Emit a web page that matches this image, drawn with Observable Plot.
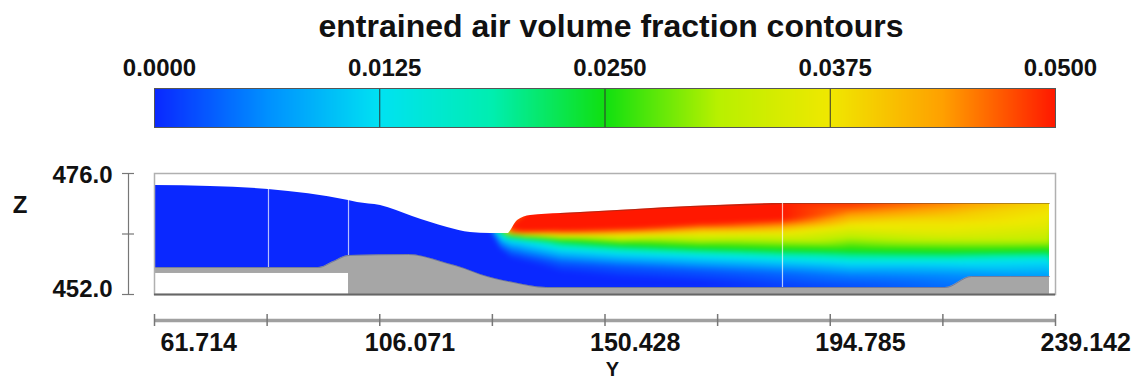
<!DOCTYPE html>
<html><head><meta charset="utf-8">
<script src="https://cdn.jsdelivr.net/npm/d3@7"></script>
<script src="https://cdn.jsdelivr.net/npm/@observablehq/plot@0.6"></script>
<style>
body{margin:0;background:#fff;}
#root{position:relative;width:1140px;height:380px;overflow:hidden;font-family:"Liberation Sans",Arial,sans-serif;}
#title{position:absolute;left:611px;top:10px;transform:translateX(-50%);font-size:32px;font-weight:bold;line-height:1;white-space:nowrap;color:#111;}
#bar{position:absolute;left:0;top:0;}
#main{position:absolute;left:0;top:140px;}
</style></head><body>
<div id="root"><div id="bar"></div><div id="main"></div><div id="title">entrained air volume fraction contours</div></div>
<script>
// ---- data ----
const colorTicks = [0, 0.0125, 0.025, 0.0375, 0.05];
const colorStops = [0, 0.00625, 0.0125, 0.01875, 0.025, 0.03125, 0.0375, 0.04375, 0.05];
const colorRange = ["#0a28ff", "#0090ff", "#00e2f2", "#00eeb0", "#10e010", "#b8f000", "#f0e800", "#ffa000", "#ff1800"];

const yTicks = [61.714, 83.893, 106.071, 128.250, 150.428, 172.607, 194.785, 216.964, 239.142];
const yTickLabels = [61.714, 106.071, 150.428, 194.785, 239.142];
const zTicks = [452, 464, 476];

// water surface (Y, Z)
const surfaceY = [61.714, 72.74, 84.16, 99.92, 101.69, 106.22, 112.52, 119.41, 123.94, 127.88, 131.23, 133.20, 135.76, 141.67, 145.60, 167.27, 185.38, 237.96];
const surfaceZ = [473.62, 473.42, 472.83, 470.64, 470.25, 469.65, 467.47, 465.29, 464.30, 464.10, 464.10, 466.68, 467.67, 468.07, 468.26, 469.45, 470.05, 470.05];

// channel bed (Y, Z)
const bedY = [61.714, 94.01, 96.96, 99.92, 111.73, 119.41, 122.76, 125.91, 132.41, 138.91, 217.48, 222.60, 237.96];
const bedZ = [457.36, 457.36, 458.55, 459.74, 459.93, 458.15, 457.16, 455.97, 454.38, 453.39, 453.39, 455.57, 455.57];

// empty box under the inlet section
const voidY = [61.714, 99.92];
const voidZ = [452, 456.17];

// block boundaries
const blockY = [84.16, 99.92, 185.38];
const blockTopZ = [472.83, 470.64, 470.05];
const blockBotZ = [457.36, 459.74, 453.39];

// air volume fraction samples [Y, Z, fraction]
const airSamples = [
  [61.714, 476, 0], [61.714, 452, 0], [61.714, 473.62, 0], [61.714, 457.36, 0],
  [99.92, 476, 0], [99.92, 470.64, 0], [99.92, 459.74, 0], [120, 476, 0], [120, 465.2, 0], [120, 458.0, 0],
  [127.0, 476, 0], [127.88, 464.10, 0], [127.88, 455.17, 0],
  [129.85, 464.10, 0.015], [129.85, 462.71, 0.008], [129.85, 460.73, 0], [129.85, 454.78, 0],
  [131.82, 465.49, 0.05], [131.82, 464.30, 0.045], [131.82, 463.70, 0.025], [131.82, 462.71, 0.0125], [131.82, 460.73, 0.004], [131.82, 459.14, 0], [131.82, 454.38, 0],
  [134.77, 476, 0.05], [134.77, 467.47, 0.05], [134.77, 464.50, 0.05], [134.77, 463.90, 0.0375], [134.77, 463.31, 0.025], [134.77, 462.31, 0.0125], [134.77, 459.74, 0.003], [134.77, 458.35, 0], [134.77, 454.0, 0],
  [141.67, 468.07, 0.05], [141.67, 464.69, 0.05], [141.67, 463.70, 0.0375], [141.67, 462.71, 0.025], [141.67, 460.93, 0.0125], [141.67, 458.35, 0.003], [141.67, 456.36, 0], [141.67, 453.39, 0],
  [153.48, 468.66, 0.05], [153.48, 465.09, 0.05], [153.48, 463.70, 0.0375], [153.48, 461.92, 0.025], [153.48, 460.13, 0.0125], [153.48, 457.55, 0.003], [153.48, 455.17, 0], [153.48, 453.39, 0],
  [169.23, 469.45, 0.05], [169.23, 466.08, 0.05], [169.23, 464.10, 0.0375], [169.23, 461.32, 0.025], [169.23, 459.54, 0.0125], [169.23, 456.76, 0.003], [169.23, 454.18, 0], [169.23, 453.39, 0],
  [184.99, 470.05, 0.05], [184.99, 466.88, 0.05], [184.99, 464.30, 0.0375], [184.99, 460.93, 0.025], [184.99, 458.95, 0.0125], [184.99, 456.36, 0.004], [184.99, 453.39, 0.001],
  [198.77, 470.05, 0.049], [198.77, 468.66, 0.046], [198.77, 465.69, 0.0375], [198.77, 460.73, 0.025], [198.77, 458.35, 0.0125], [198.77, 455.77, 0.005], [198.77, 453.39, 0.002],
  [218.47, 470.05, 0.045], [218.47, 467.67, 0.040], [218.47, 463.70, 0.035], [218.47, 460.53, 0.025], [218.47, 458.35, 0.0125], [218.47, 455.77, 0.006], [218.47, 453.39, 0.004],
  [237.96, 470.05, 0.039], [237.96, 465.69, 0.036], [237.96, 462.71, 0.032], [237.96, 460.73, 0.025], [237.96, 458.75, 0.0125], [237.96, 455.57, 0.007],
  [239.142, 476, 0.039], [239.142, 452, 0.007]
];

// ---- build ----
const font = "Liberation Sans, Arial, sans-serif";
const colorScale = {type: "linear", domain: colorStops, range: colorRange, clamp: true};
const surface = surfaceY.map((Y, i) => ({Y, Z: surfaceZ[i]}));
const bed = bedY.map((Y, i) => ({Y, Z: bedZ[i]}));
const blocks = blockY.map((Y, i) => ({Y, top: blockTopZ[i], bot: blockBotZ[i]}));

const bar = Plot.plot({
  width: 1140, height: 140,
  marginLeft: 154, marginRight: 85, marginTop: 88, marginBottom: 13,
  style: {fontFamily: font, background: "white", color: "#111"},
  x: {domain: [0, 0.05], label: null},
  y: {domain: [0, 1], axis: null},
  color: colorScale,
  marks: [
    Plot.raster({fill: (x, y) => x, x1: 0, x2: 0.05, y1: 0, y2: 1}),
    Plot.ruleX(colorTicks.slice(1, -1), {stroke: "#333", strokeWidth: 1}),
    Plot.frame({stroke: "#555", strokeWidth: 1}),
    Plot.axisX(colorTicks, {anchor: "top", tickSize: 0, tickPadding: 13, dx: 5, label: null,
      tickFormat: d => d.toFixed(4), fontSize: 24, fontWeight: "bold", color: "#111"})
  ]
});
document.getElementById("bar").append(bar);

const main = Plot.plot({
  width: 1140, height: 240,
  marginLeft: 154, marginRight: 85, marginTop: 33, marginBottom: 86,
  style: {fontFamily: font, background: "white", color: "#111", overflow: "visible"},
  x: {domain: [61.714, 239.142], label: null},
  y: {domain: [452, 476], label: null},
  color: colorScale,
  marks: [
    Plot.raster(airSamples, {x: d => d[0], y: d => d[1], fill: d => d[2], interpolate: "barycentric", blur: 2,
      x1: 61.714, x2: 239.142, y1: 452, y2: 476}),
    Plot.areaY(surface, {x: "Y", y1: "Z", y2: 476, fill: "white", curve: "monotone-x"}),
    Plot.rect([0], {x1: surfaceY[surfaceY.length - 1], x2: 239.142, y1: 452, y2: 476, fill: "white"}),
    Plot.line(surface.filter(d => d.Y >= 141), {x: "Y", y: "Z", stroke: "#5a3a2a", strokeOpacity: 0.45, strokeWidth: 1.2}),
    Plot.areaY(bed, {x: "Y", y1: 452, y2: "Z", fill: "#a6a6a6", curve: "monotone-x"}),
    Plot.line(bed, {x: "Y", y: "Z", stroke: "#3a4a8a", strokeOpacity: 0.45, strokeWidth: 1, curve: "monotone-x"}),
    Plot.rect([0], {x1: voidY[0], x2: voidY[1], y1: voidZ[0], y2: voidZ[1], fill: "white"}),
    Plot.ruleX(blocks, {x: "Y", y1: "bot", y2: "top", stroke: "white", strokeOpacity: 0.7, strokeWidth: 1.2}),
    Plot.frame({stroke: "#b0b0b0", strokeWidth: 1.5}),
    Plot.ruleY([452], {stroke: "#666", strokeWidth: 2}),
    // Z axis
    Plot.ruleX([61.714], {y1: 452, y2: 476, dx: -26, stroke: "#777", strokeWidth: 1.2}),
    Plot.axisY(zTicks, {anchor: "left", tickSize: 12, dx: -20, tickFormat: () => "", stroke: "#777", strokeWidth: 1.2, label: null}),
    Plot.axisY([476], {anchor: "left", tickSize: 0, tickPadding: 42, dy: 2, tickFormat: d => d.toFixed(1), fontSize: 24, fontWeight: "bold", label: null}),
    Plot.axisY([452], {anchor: "left", tickSize: 0, tickPadding: 42, dy: -5.5, tickFormat: d => d.toFixed(1), fontSize: 24, fontWeight: "bold", label: null}),
    Plot.text(["Z"], {x: 61.714, y: 469.65, dx: -134.5, text: d => d, fontSize: 24, fontWeight: "bold"}),
    // Y axis
    Plot.ruleY([452], {dy: 26, stroke: "#a0a0a0", strokeWidth: 3.5}),
    Plot.axisX(yTicks, {anchor: "bottom", tickSize: 12, dy: 20, tickFormat: () => "", stroke: "#777", strokeWidth: 1.5, label: null}),
    Plot.axisX(yTickLabels.slice(0, 1), {anchor: "bottom", tickSize: 0, tickPadding: 38.5, dx: 6, textAnchor: "start",
      tickFormat: d => d.toFixed(3), fontSize: 25, fontWeight: "bold", label: null}),
    Plot.axisX(yTickLabels.slice(1), {anchor: "bottom", tickSize: 0, tickPadding: 38.5, dx: -15, textAnchor: "start",
      tickFormat: d => d.toFixed(3), fontSize: 25, fontWeight: "bold", label: null}),
    Plot.text(["Y"], {x: 151.9, y: 452, dy: 81.5, lineAnchor: "bottom", text: d => d, fontSize: 20, fontWeight: "bold"})
  ]
});
document.getElementById("main").append(main);
</script>
</body></html>
